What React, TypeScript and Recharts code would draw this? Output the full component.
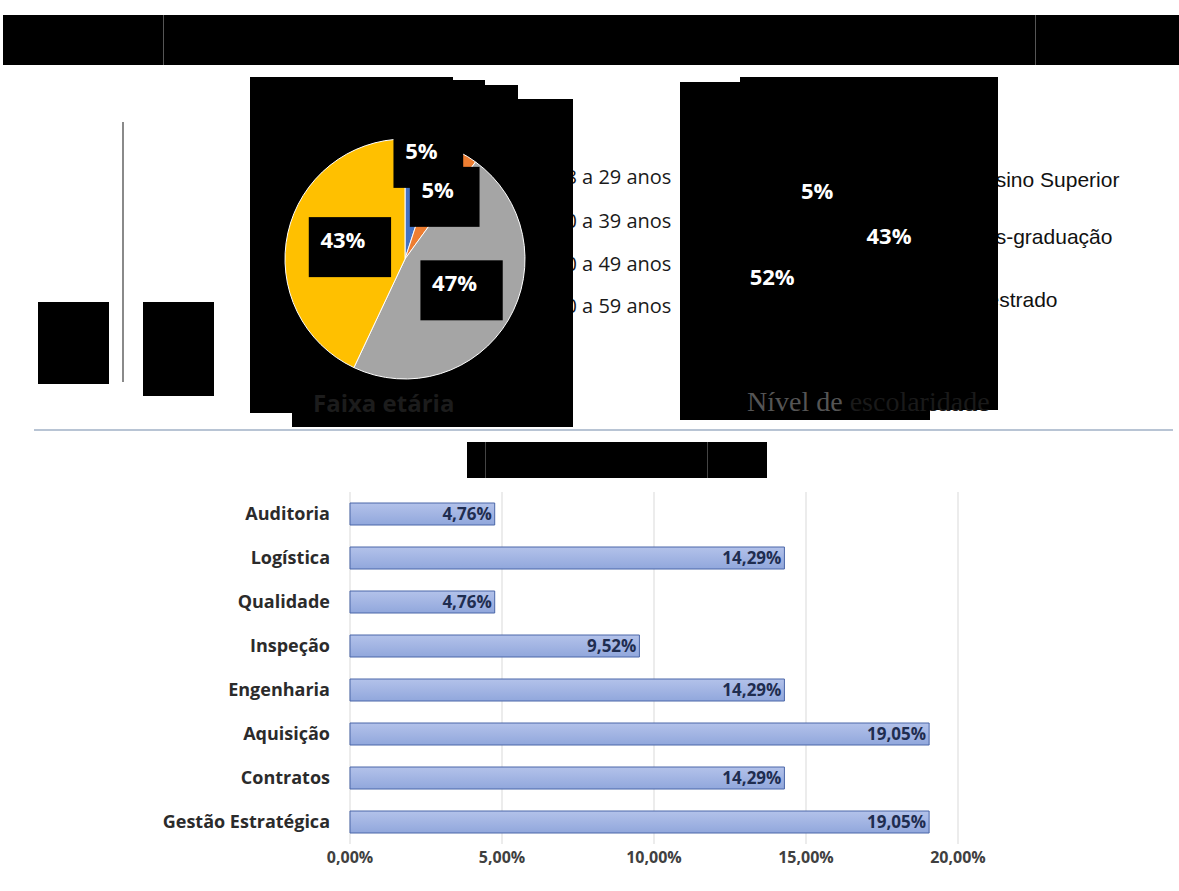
import React from 'react';
import { BarChart, Bar, XAxis, YAxis, CartesianGrid, LabelList, PieChart, Pie, Cell } from 'recharts';

// área de atuação (bar chart, top to bottom)
const areas = ['Auditoria', 'Logística', 'Qualidade', 'Inspeção', 'Engenharia', 'Aquisição', 'Contratos', 'Gestão Estratégica'];
const areaShares = [4.76, 14.29, 4.76, 9.52, 14.29, 19.05, 14.29, 19.05];
const shareTicks = [0, 5, 10, 15, 20];

// faixa etária
const ageGroups = ['18 a 29 anos', '30 a 39 anos', '40 a 49 anos', '50 a 59 anos'];
const ageShares = [5, 5, 47, 43];
const ageColors = ['#4472C4', '#ED7D31', '#A5A5A5', '#FFC000'];

// nível de escolaridade
const schoolLevels = ['Ensino Superior', 'Pós-graduação', 'Mestrado'];
const schoolShares = [5, 43, 52];

const barData = areas.map((area, i) => ({ area, share: areaShares[i] }));
const ageData = ageGroups.map((name, i) => ({ name, value: ageShares[i] }));
const schoolData = schoolLevels.map((name, i) => ({ name, value: schoolShares[i] }));

const pct = (v: any) => Number(v).toFixed(2).replace('.', ',') + '%';

const RAD = Math.PI / 180;
// where Excel put each data label, as a share of the radius
const ageLabelRadius = [0.87, 0.6, 0.48, 0.53];

const black = (l: number, t: number, r: number, b: number, key: string) => (
  <div key={key} style={{ position: 'absolute', left: l, top: t, width: r - l, height: b - t, background: '#000' }} />
);

function AgeLabel(props: any) {
  const { cx, cy, midAngle, outerRadius, value, index } = props;
  const r = outerRadius * ageLabelRadius[index];
  const x = cx + r * Math.cos(-midAngle * RAD);
  const y = cy + r * Math.sin(-midAngle * RAD) - 5;
  const text = value + '%';
  const w = (text.length - 1) * 0.572 * 22 + 0.87 * 22;
  return (
    <g>
      <rect x={x - w / 2 - 12} y={y - 23} width={w + 38} height={60} fill="#000" />
      <text x={x} y={y} dy={8} textAnchor="middle" fill="#fff" fontSize={22} fontWeight="bold" fontFamily="Open Sans">
        {text}
      </text>
    </g>
  );
}

function SchoolLabel(props: any) {
  const { cx, cy, midAngle, outerRadius, value } = props;
  const r = outerRadius * 0.62;
  const x = cx + r * Math.cos(-midAngle * RAD);
  const y = cy + r * Math.sin(-midAngle * RAD);
  return (
    <text x={x} y={y} dy={8} textAnchor="middle" fill="#fff" fontSize={22} fontWeight="bold" fontFamily="Open Sans">
      {value + '%'}
    </text>
  );
}

export default function App() {
  const legendTops1 = [178, 222, 265, 307];
  const legendTops2 = [180, 237, 300];
  return (
    <div style={{ position: 'absolute', left: 0, top: 0, width: 1179, height: 891, background: '#fff', overflow: 'hidden', fontFamily: 'Open Sans' }}>
      {/* legends sit under the redaction boxes */}
      {ageGroups.map((g, i) => (
        <div key={g} style={{ position: 'absolute', left: 554, top: legendTops1[i] - 11, fontSize: 20, lineHeight: '20px', color: '#1a1a1a', whiteSpace: 'nowrap' }}>
          {g}
        </div>
      ))}
      {schoolLevels.map((g, i) => (
        <div key={g} style={{ position: 'absolute', left: 970, top: legendTops2[i] - 11, fontSize: 21, lineHeight: '21px', color: '#111', fontFamily: 'Liberation Sans', whiteSpace: 'nowrap' }}>
          {g}
        </div>
      ))}

      {/* redaction boxes */}
      {black(3, 15, 1179, 65, 'top')}
      <div style={{ position: 'absolute', left: 163, top: 15, width: 1, height: 50, background: '#555' }} />
      <div style={{ position: 'absolute', left: 1035, top: 15, width: 1, height: 50, background: '#555' }} />
      {black(250, 77, 453, 413, 'p1a')}
      {black(453, 80, 485, 427, 'p1b')}
      {black(485, 85, 518, 427, 'p1c')}
      {black(518, 99, 573, 427, 'p1d')}
      {black(292, 99, 573, 427, 'p1e')}
      {black(680, 82, 740, 420, 'p2a')}
      {black(740, 77, 998, 410, 'p2b')}
      {black(680, 100, 930, 420, 'p2c')}
      {black(38, 302, 109, 384, 'l1')}
      {black(143, 302, 214, 396, 'l2')}
      <div style={{ position: 'absolute', left: 122, top: 122, width: 2, height: 260, background: '#8a8a8a' }} />
      <div style={{ position: 'absolute', left: 34, top: 429, width: 1139, height: 2, background: '#b8c4d4' }} />
      {black(467, 442, 767, 478, 'bt')}
      <div style={{ position: 'absolute', left: 485, top: 442, width: 1, height: 36, background: '#444' }} />
      <div style={{ position: 'absolute', left: 707, top: 442, width: 1, height: 36, background: '#444' }} />

      {/* Faixa etária */}
      <div style={{ position: 'absolute', left: 250, top: 77 }}>
        <PieChart width={323} height={350}>
          <Pie
            data={ageData}
            dataKey="value"
            nameKey="name"
            cx={150}
            cy={177}
            outerRadius={120}
            startAngle={90}
            endAngle={-270}
            stroke="#fff"
            strokeWidth={1}
            label={AgeLabel}
            labelLine={false}
            isAnimationActive={false}
          >
            {ageData.map((d, i) => (
              <Cell key={d.name} fill={ageColors[i]} />
            ))}
          </Pie>
        </PieChart>
      </div>
      <div style={{ position: 'absolute', left: 313, top: 391, fontSize: 24, lineHeight: '24px', fontWeight: 'bold', color: '#1c1c1c', whiteSpace: 'nowrap' }}>
        Faixa etária
      </div>

      {/* Nível de escolaridade (slices redacted) */}
      <div style={{ position: 'absolute', left: 680, top: 77 }}>
        <PieChart width={318} height={343}>
          <Pie
            data={schoolData}
            dataKey="value"
            nameKey="name"
            cx={144}
            cy={170}
            outerRadius={100}
            startAngle={110}
            endAngle={-250}
            stroke="#000"
            label={SchoolLabel}
            labelLine={false}
            isAnimationActive={false}
          >
            {schoolData.map((d) => (
              <Cell key={d.name} fill="#000" />
            ))}
          </Pie>
        </PieChart>
      </div>
      <div style={{ position: 'absolute', left: 747, top: 388, fontSize: 28, lineHeight: '28px', fontFamily: 'Liberation Serif', whiteSpace: 'nowrap' }}>
        <span style={{ color: '#555' }}>Nível de </span>
        <span style={{ color: '#1a1a1a' }}>escolaridade</span>
      </div>

      {/* Área de atuação */}
      <div style={{ position: 'absolute', left: 0, top: 470 }}>
        <BarChart width={1000} height={421} data={barData} layout="vertical" margin={{ top: 22, right: 42, bottom: 0, left: 0 }} barSize={22}>
          <defs>
            <linearGradient id="barFill" x1="0" y1="0" x2="0" y2="1">
              <stop offset="0%" stopColor="#B3C2EA" />
              <stop offset="100%" stopColor="#91A7DC" />
            </linearGradient>
          </defs>
          <CartesianGrid horizontal={false} stroke="#d9d9d9" />
          <XAxis
            type="number"
            domain={[0, 20]}
            ticks={shareTicks}
            tickFormatter={pct}
            axisLine={false}
            tickLine={false}
            tickSize={0}
            tickMargin={8}
            height={47}
            tick={{ fill: '#404040', fontSize: 16, fontWeight: 'bold' }}
          />
          <YAxis
            type="category"
            dataKey="area"
            width={350}
            axisLine={false}
            tickLine={false}
            tickSize={0}
            tickMargin={20}
            tick={{ fill: '#2b2b2b', fontSize: 18, fontWeight: 'bold' }}
          />
          <Bar dataKey="share" fill="url(#barFill)" stroke="#4A66A8" strokeWidth={1} isAnimationActive={false}>
            <LabelList dataKey="share" position="insideRight" offset={3} formatter={pct} fill="#1F2D50" fontSize={17} fontWeight="bold" />
          </Bar>
        </BarChart>
      </div>
    </div>
  );
}
